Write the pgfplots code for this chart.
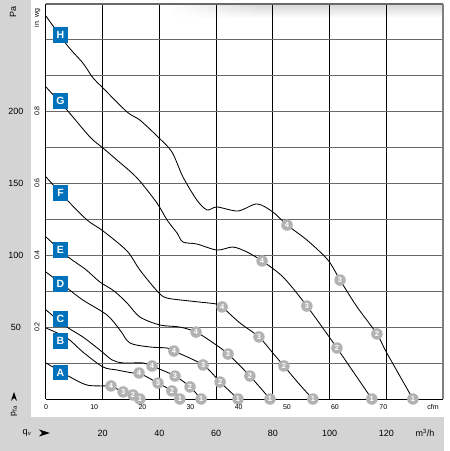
\documentclass[border=0pt]{standalone}
\usepackage{pgfplots}
\pgfplotsset{compat=1.18}
\usetikzlibrary{fadings}
\usepackage{fontspec}
\setmainfont{Liberation Sans}
\definecolor{bandgray}{RGB}{212,212,212}
\definecolor{boxblue}{RGB}{0,114,188}
\definecolor{markgray}{RGB}{178,178,178}
\definecolor{hgrid}{RGB}{105,105,105}
\begin{document}
\begin{tikzpicture}[x=1pt,y=1pt]
\useasboundingbox (0,0) rectangle (450,451);
\fill[white] (0,0) rectangle (450,451);
\fill[bandgray] (0,0) rectangle (31,451);
\fill[bandgray] (0,0) rectangle (444,34);
\shade[left color=white, right color=black!16, path fading=south] (170,433) rectangle (260,447);
\fill[black!16, path fading=south] (260,433) rectangle (443,447);
\begin{axis}[at={(46pt,52pt)}, anchor=south west, scale only axis,
  width=397pt, height=395pt, xmin=0, xmax=140, ymin=0, ymax=275,
  axis line style={draw=none}, tick style={draw=none},
  xtick={20,40,...,120}, ytick={25,50,...,250},
  xticklabels={}, yticklabels={},
  xmajorgrids, ymajorgrids,
  major x grid style={black, line width=0.75pt},
  major y grid style={hgrid, line width=1.1pt},
  clip=false]
\draw[hgrid, line width=1.2pt] (axis cs:0,275) -- (axis cs:140,275);
\draw[gray, line width=1.8pt] (axis cs:140,0) -- (axis cs:140,275);
\draw[black, line width=1pt] (axis cs:0,0) -- (axis cs:0,275);
\draw[black, line width=1pt] (axis cs:0,0) -- (axis cs:140,0);
% curves
\pgfplotsset{curve/.style={black, line width=0.85pt, smooth, tension=0.5, mark=none}}
\addplot[curve] coordinates {(0,266.6) (7.4,246.4) (13.0,233.9) (16.6,223.5) (20.1,216.5) (28.6,199.8) (33.1,194.2) (39.5,182.4) (44.4,172.0) (48.3,154.6) (53.2,138.5) (56.8,131.6) (60.3,133.7) (67.7,130.9) (74.4,135.8) (80.0,130.2) (85.0,121.1) (92.0,110.7) (99.4,96.8) (103.7,82.8) (109.7,64.1) (116.7,45.3) (120.2,32.0) (129.4,0)};
\addplot[curve] coordinates {(0,217.2) (7.4,201.2) (15.5,182.4) (20.1,174.7) (25.0,166.4) (32.1,153.9) (39.1,136.5) (42.7,124.6) (46.2,115.6) (48.3,109.3) (53.2,107.9) (60.3,103.7) (65.9,105.8) (70.9,102.3) (76.2,96.1) (83.6,84.9) (92.0,64.7) (102.6,35.5) (114.9,0)};
\addplot[curve] coordinates {(0,154.6) (7.1,139.2) (14.5,124.6) (20.1,117.0) (28.6,103.0) (33.1,89.8) (39.5,74.5) (42.7,70.3) (50.8,68.2) (60.3,66.1) (62.1,64.1) (68.4,52.9) (75.1,43.2) (80.0,32.0) (83.9,23.0) (89.6,9.7) (94.1,0)};
\addplot[curve] coordinates {(0,112.8) (7.8,98.9) (13.8,90.5) (19.0,81.5) (24.0,75.2) (28.6,66.8) (33.1,57.1) (40.2,51.5) (47.2,50.1) (52.9,46.6) (58.5,39.7) (64.2,31.3) (71.9,16.0) (79.0,0)};
\addplot[curve] coordinates {(0,88.4) (7.4,77.3) (13.0,68.9) (21.5,58.5) (26.1,48.0) (29.6,39.0) (36.7,36.2) (42.7,35.5) (45.1,33.4) (55.4,23.7) (61.4,11.8) (67.7,0)};
\addplot[curve] coordinates {(0,62.0) (7.4,50.1) (13.0,43.2) (19.0,34.1) (23.3,27.2) (27.2,25.1) (34.2,25.1) (37.4,23.0) (45.5,16.0) (50.8,8.4) (54.7,0)};
\addplot[curve] coordinates {(0,49.4) (7.4,42.5) (13.0,32.7) (20.1,22.3) (25.0,20.2) (30.7,18.1) (32.8,18.1) (39.5,11.1) (44.4,5.6) (47.2,0)};
\addplot[curve] coordinates {(0,25.1) (8.5,15.3) (14.5,9.7) (21.5,9.1) (22.9,9.1) (27.2,4.9) (30.7,2.8) (33.1,0)};
% numbered operating points
\addplot[only marks, mark=none, point meta=explicit symbolic, nodes near coords,
  nodes near coords align={center},
  every node near coord/.style={circle, fill=markgray, text=white, inner sep=0pt,
    minimum size=11.5pt, font=\bfseries\fontsize{7.5}{8}\selectfont}]
coordinates {
(22.9,9.1) [4] (27.2,4.9) [3] (30.7,2.8) [2] (33.1,0) [1]
(32.8,18.1) [4] (39.5,11.1) [3] (44.4,5.6) [2] (47.2,0) [1]
(37.4,23.0) [4] (45.5,16.0) [3] (50.8,8.4) [2] (54.7,0) [1]
(45.1,33.4) [4] (55.4,23.7) [3] (61.4,11.8) [2] (67.7,0) [1]
(52.9,46.6) [4] (64.2,31.3) [3] (71.9,16.0) [2] (79.0,0) [1]
(62.1,64.1) [4] (75.1,43.2) [3] (83.9,23.0) [2] (94.1,0) [1]
(76.2,96.1) [4] (92.0,64.7) [3] (102.6,35.5) [2] (114.9,0) [1]
(85.0,121.1) [4] (103.7,82.8) [3] (116.7,45.3) [2] (129.4,0) [1]
};
% curve letters
\addplot[only marks, mark=none, point meta=explicit symbolic, nodes near coords,
  nodes near coords align={center},
  every node near coord/.style={rectangle, fill=boxblue, text=white, inner sep=0pt,
    minimum size=15.5pt, font=\bfseries\fontsize{10.5}{11}\selectfont}]
coordinates {
(5.1,253.4) [H] (5.1,207.5) [G] (5.1,143.4) [F] (5.1,103.7) [E]
(5.1,80.1) [D] (5.1,55.7) [C] (5.1,40.4) [B] (5.1,18.4) [A]
};
\end{axis}
% left labels
\begin{scope}[font=\fontsize{9}{10}\selectfont]
\node at (16,340) {200};
\node at (16,268) {150};
\node at (16,196) {100};
\node at (16,124) {50};
\node[rotate=90] at (13,439) {Pa};
\end{scope}
\begin{scope}[font=\fontsize{7}{8}\selectfont]
\node[rotate=90] at (37,340) {0.8};
\node[rotate=90] at (37,268) {0.6};
\node[rotate=90] at (37,196) {0.4};
\node[rotate=90] at (37,124) {0.2};
\node[rotate=90] at (37,433) {in. wg};
\end{scope}
% pressure symbol
\fill (11,50) -- (14,59) -- (17,50) -- (14,53) -- cycle;
\node[rotate=90, font=\fontsize{8.5}{10}\selectfont] at (14,40) {p\textsubscript{fa}};
% cfm labels
\begin{scope}[font=\fontsize{7}{8}\selectfont]
\node at (46,44) {0};
\node at (94.2,44) {10};
\node at (142.4,44) {20};
\node at (190.5,44) {30};
\node at (238.7,44) {40};
\node at (286.9,44) {50};
\node at (335,44) {60};
\node at (383.3,44) {70};
\node at (433,44) {cfm};
\end{scope}
% m3/h labels
\begin{scope}[font=\fontsize{9}{10}\selectfont]
\node at (102.7,18) {20};
\node at (159.4,18) {40};
\node at (216.2,18) {60};
\node at (272.9,18) {80};
\node at (329.6,18) {100};
\node at (386.3,18) {120};
\node at (425,18) {m\textsuperscript{3}/h};
\node at (27,18) {q\textsubscript{v}};
\end{scope}
\fill (39,14.5) -- (50,18) -- (39,21.5) -- (42,18) -- cycle;
\end{tikzpicture}
\end{document}
